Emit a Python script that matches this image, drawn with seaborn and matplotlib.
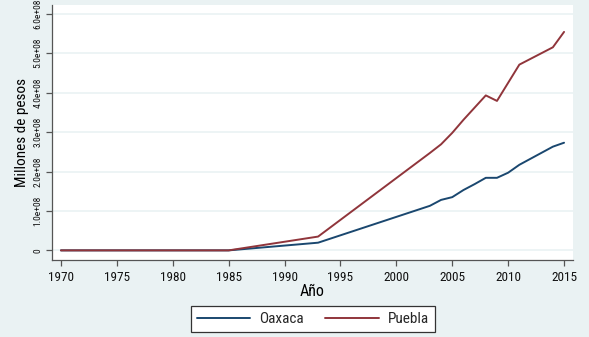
import matplotlib
matplotlib.use('Agg')
import matplotlib.pyplot as plt
import seaborn as sns
import pandas as pd

# values (pesos)
years = [1970, 1985, 1993, 2003, 2004, 2005, 2006, 2007, 2008, 2009, 2010, 2011, 2014, 2015]
oaxaca = [0, 0, 0.195e8, 1.13e8, 1.28e8, 1.35e8, 1.53e8, 1.68e8, 1.84e8, 1.84e8, 1.97e8, 2.17e8, 2.63e8, 2.73e8]
puebla = [0, 0, 0.35e8, 2.47e8, 2.69e8, 2.98e8, 3.31e8, 3.62e8, 3.93e8, 3.79e8, 4.25e8, 4.71e8, 5.15e8, 5.54e8]
estados = ['Oaxaca', 'Puebla']

x_ticks = [1970, 1975, 1980, 1985, 1990, 1995, 2000, 2005, 2010, 2015]
y_ticks = [0, 1e8, 2e8, 3e8, 4e8, 5e8, 6e8]
y_ticklabels = ['0', '1.0e+08', '2.0e+08', '3.0e+08', '4.0e+08', '5.0e+08', '6.0e+08']

BG = '#EAF2F3'
colors = {'Oaxaca': '#1A476F', 'Puebla': '#90353B'}

df = pd.DataFrame({
    'year': years * 2,
    'valor': oaxaca + puebla,
    'estado': [estados[0]] * len(years) + [estados[1]] * len(years),
})

sns.set_style('white')
# narrow sans, like the squeezed Arial of the original
plt.rcParams['font.family'] = ['Roboto Condensed', 'Liberation Sans', 'DejaVu Sans']

fig = plt.figure(figsize=(5.89, 3.37), dpi=100, facecolor=BG)
ax = fig.add_axes([52/589, 1 - 260/337, (573 - 52)/589, (260 - 4.7)/337])
ax.set_facecolor('white')

sns.lineplot(data=df, x='year', y='valor', hue='estado', palette=colors,
             linewidth=1.4, ax=ax, legend=False)

ax.set_xlim(1969.2, 2015.8)
ax.set_ylim(-0.244e8, 6.23e8)
ax.set_xticks(x_ticks)
ax.set_yticks(y_ticks)
ax.set_yticklabels(y_ticklabels, rotation=90, va='center')

ax.yaxis.grid(True, color=BG, linewidth=1.2)
ax.set_axisbelow(True)
for s in ['top', 'right']:
    ax.spines[s].set_visible(False)
for s in ['left', 'bottom']:
    ax.spines[s].set_color('#555555')
    ax.spines[s].set_linewidth(0.9)

ax.tick_params(axis='x', direction='out', length=4, width=0.9, color='#555555',
               labelsize=9.5, pad=4, labelcolor='#111111', bottom=True)
ax.tick_params(axis='y', direction='out', length=4, width=0.9, color='#555555',
               labelsize=6.8, pad=3, labelcolor='#111111', left=True)

ax.set_xlabel('Año', fontsize=11.5, labelpad=0, color='black')
ax.set_ylabel('Millones de pesos', fontsize=11, labelpad=3, color='black')

handles = [plt.Line2D([], [], color=colors[e], linewidth=1.4) for e in estados]
leg = fig.legend(handles, estados, loc='center', bbox_to_anchor=(313/589, 1 - 319/337),
                 ncol=2, fontsize=11, frameon=True, fancybox=False,
                 handlelength=3.5, handletextpad=0.6, columnspacing=1.4,
                 borderpad=0.4)
leg.get_frame().set_edgecolor('#333333')
leg.get_frame().set_linewidth(0.9)
leg.get_frame().set_facecolor('white')
leg.get_frame().set_alpha(1)

fig.savefig('out.png', dpi=100, facecolor=BG)
